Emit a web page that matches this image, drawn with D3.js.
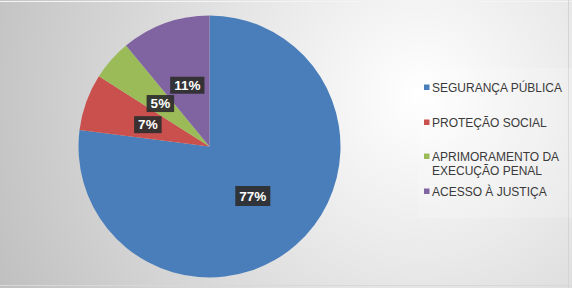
<!DOCTYPE html>
<html><head><meta charset="utf-8">
<script src="https://cdn.jsdelivr.net/npm/d3@7"></script>
<style>html,body{margin:0;padding:0;background:#fff}svg{display:block}</style>
</head><body>
<script>
const categories = ["SEGURANÇA PÚBLICA", "PROTEÇÃO SOCIAL", "APRIMORAMENTO DA EXECUÇÃO PENAL", "ACESSO À JUSTIÇA"];
const legendLines = [["SEGURANÇA PÚBLICA"], ["PROTEÇÃO SOCIAL"], ["APRIMORAMENTO DA", "EXECUÇÃO PENAL"], ["ACESSO À JUSTIÇA"]];
const values = [77, 7, 5, 11];
const labels = ["77%", "7%", "5%", "11%"];
const colors = ["#4a7ebb", "#c9504d", "#9bbb59", "#8064a2"];

const W = 572, H = 288;
const svg = d3.select("body").append("svg").attr("width", W).attr("height", H);
const defs = svg.append("defs");
const g1 = defs.append("radialGradient").attr("id", "bg")
  .attr("gradientUnits", "userSpaceOnUse")
  .attr("cx", 420).attr("cy", 95).attr("r", 460);
g1.append("stop").attr("offset", "0").attr("stop-color", "#ffffff");
g1.append("stop").attr("offset", "0.35").attr("stop-color", "#eaeaea");
g1.append("stop").attr("offset", "1").attr("stop-color", "#c0c0c0");
svg.append("rect").attr("width", W).attr("height", H).attr("fill", "url(#bg)");
svg.append("line").attr("x1", 0).attr("x2", W).attr("y1", 1.5).attr("y2", 1.5).attr("stroke", "#f4f4f4").attr("stroke-width", 1);
svg.append("line").attr("x1", 0).attr("x2", W).attr("y1", 285.5).attr("y2", 285.5).attr("stroke", "#d8d8d8").attr("stroke-width", 1);
svg.append("line").attr("x1", 568.5).attr("x2", 568.5).attr("y1", 0).attr("y2", H).attr("stroke", "#d4d4d4").attr("stroke-width", 1);

// legend panel
svg.append("rect").attr("x", 418).attr("y", 68).attr("width", 154).attr("height", 150).attr("fill", "#ffffff").attr("opacity", 0.18);

const cx = 209.5, cy = 146.5, R = 131;
const pie = d3.pie().sort(null).value(d => d);
const arcs = pie(values);
const arc = d3.arc().innerRadius(0).outerRadius(R);
const gp = svg.append("g").attr("transform", `translate(${cx},${cy})`);
gp.selectAll("path").data(arcs).join("path")
  .attr("d", arc).attr("fill", (d, i) => colors[i]);

const labArc = d3.arc().innerRadius(0).outerRadius(R * 1.0);
const lg = gp.selectAll("g.lab").data(arcs).join("g").attr("class", "lab")
  .attr("transform", d => { const c = labArc.centroid(d); return `translate(${c[0]},${c[1]})`; });
lg.each(function(d, i) {
  const g = d3.select(this);
  const t = g.append("text").text(labels[i])
    .attr("text-anchor", "middle").attr("dy", "0.36em")
    .attr("font-family", "Liberation Sans, Arial, sans-serif")
    .attr("font-weight", "bold").attr("font-size", 13.5)
    .attr("fill", "#ffffff");
  const b = t.node().getBBox();
  const padX = 4, padY = i === 0 ? 2.5 : 1;
  g.insert("rect", "text")
    .attr("x", b.x - padX).attr("y", b.y - padY)
    .attr("width", b.width + 2 * padX).attr("height", b.height + 2 * padY)
    .attr("fill", "#2e2e2e").attr("opacity", 0.92);
});

const legendY = [92, 127, 161, 196];
const leg = svg.append("g");
legendLines.forEach((lines, i) => {
  leg.append("rect").attr("x", 424).attr("y", legendY[i] - 7.5).attr("width", 5.5).attr("height", 5.5).attr("fill", colors[i]);
  lines.forEach((ln, j) => {
    leg.append("text").attr("x", 432).attr("y", legendY[i] + j * 13.5)
      .attr("font-family", "Liberation Sans, Arial, sans-serif").attr("font-size", 12)
      .attr("fill", "#3a3a3a").text(ln);
  });
});
</script>
</body></html>
